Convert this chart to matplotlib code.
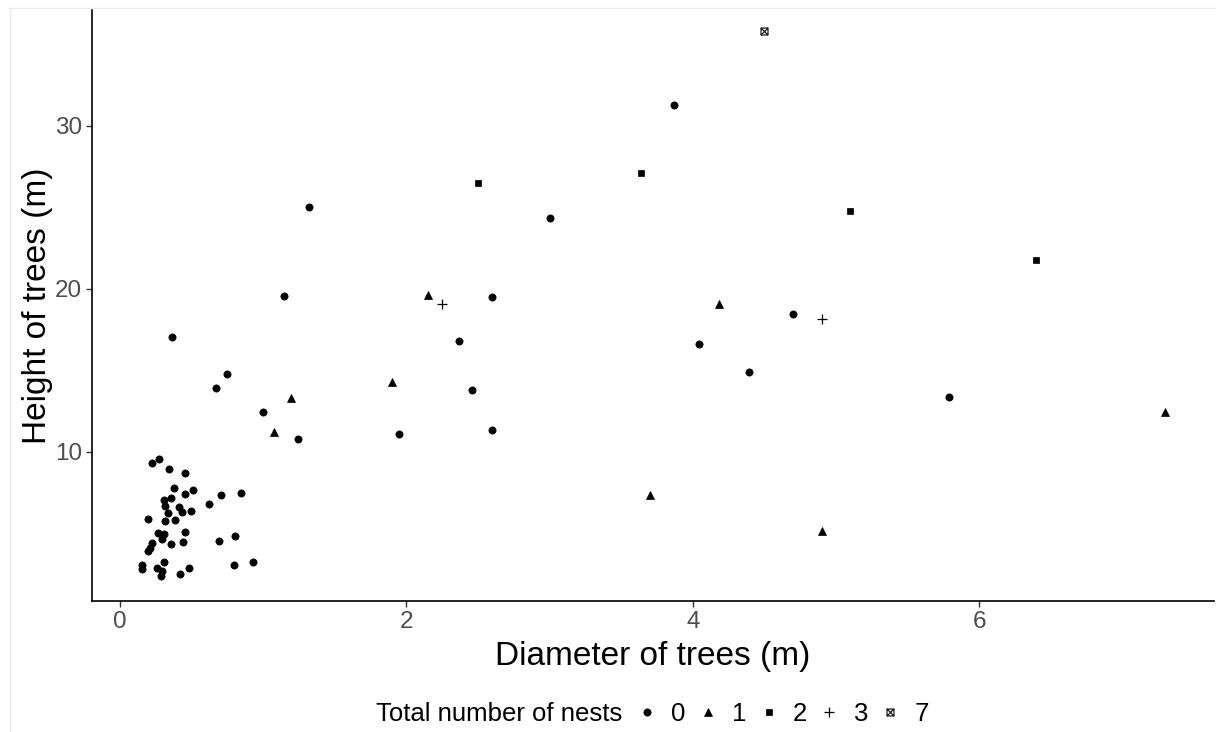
import numpy as np
import matplotlib.pyplot as plt
from matplotlib.path import Path
from matplotlib.lines import Line2D

plt.rcParams['font.family'] = ['Liberation Sans', 'DejaVu Sans']

# ── Data ──────────────────────────────────────────────────────────────────────
diam_0 = [0.226, 0.273, 0.343, 0.455, 0.378, 0.509, 0.455, 0.357, 0.310, 0.315,
          0.415, 0.436, 0.492, 0.338, 0.618, 0.707, 0.847, 0.198, 0.315, 0.385,
          0.268, 0.310, 0.296, 0.455, 0.439, 0.357, 0.222, 0.210, 0.198, 0.156,
          0.156, 0.257, 0.310, 0.292, 0.287, 0.420, 0.483, 0.688, 0.805, 0.798,
          0.926,
          0.36, 0.747, 0.67, 0.996, 1.24, 1.148, 1.32, 1.95, 2.37, 2.46, 2.60,
          2.60, 3.00, 3.87, 4.04, 4.39, 4.70, 5.79]
height_0 = [9.34, 9.59, 8.96, 8.69, 7.81, 7.69, 7.40, 7.16, 7.06, 6.69,
            6.61, 6.34, 6.40, 6.28, 6.83, 7.36, 7.47, 5.88, 5.79, 5.85,
            5.00, 4.95, 4.66, 5.07, 4.50, 4.34, 4.40, 4.09, 3.93, 3.07,
            2.82, 2.87, 3.27, 2.70, 2.41, 2.50, 2.87, 4.56, 4.85, 3.05,
            3.27,
            17.06, 14.79, 13.94, 12.47, 10.8, 19.57, 25.0, 11.1, 16.8, 13.8, 19.5,
            11.35, 24.35, 31.3, 16.6, 14.9, 18.47, 13.37]

diam_1 = [1.197, 1.078, 1.90, 2.15, 3.70, 4.18, 4.90, 7.30]
height_1 = [13.31, 11.21, 14.3, 19.6, 7.36, 19.1, 5.15, 12.45]

diam_2 = [2.50, 3.64, 5.10, 6.40]
height_2 = [26.5, 27.1, 24.8, 21.8]

diam_3 = [2.25, 4.90]
height_3 = [19.1, 18.16]

diam_7 = [4.50]
height_7 = [35.8]

nest_labels = ['0', '1', '2', '3', '7']

# ── Marker: square with a cross (ggplot shape 7) ──────────────────────────────
sq_x = Path([(-1, -1), (1, -1), (1, 1), (-1, 1), (-1, -1),
             (-1, -1), (1, 1), (-1, 1), (1, -1)],
            [Path.MOVETO, Path.LINETO, Path.LINETO, Path.LINETO, Path.CLOSEPOLY,
             Path.MOVETO, Path.LINETO, Path.MOVETO, Path.LINETO])

styles = [
    dict(marker='o', ms=5.2, mfc='black', mec='black', mew=0.5),
    dict(marker='^', ms=5.5, mfc='black', mec='black', mew=0.5),
    dict(marker='s', ms=4.3, mfc='black', mec='black', mew=0.5),
    dict(marker='+', ms=7.5, mfc='none', mec='black', mew=0.9),
    dict(marker=sq_x, ms=5.0, mfc='none', mec='#222222', mew=0.9),
]
groups = [(diam_0, height_0), (diam_1, height_1), (diam_2, height_2),
          (diam_3, height_3), (diam_7, height_7)]

# ── Figure ────────────────────────────────────────────────────────────────────
fig = plt.figure(figsize=(12.16, 7.32), dpi=100)
ax = fig.add_axes([92 / 1216, 1 - 601 / 732, (1214 - 92) / 1216, (601 - 10) / 732])

handles = []
for (x, y), st, lbl in zip(groups, styles, nest_labels):
    h, = ax.plot(x, y, ls='none', label=lbl, **st)
    handles.append(h)

ax.set_xlim(-0.196, 7.64)
ax.set_ylim(0.86, 37.1)
ax.set_xticks([0, 2, 4, 6])
ax.set_yticks([10, 20, 30])

for s in ['top', 'right']:
    ax.spines[s].set_visible(False)
for s in ['left', 'bottom']:
    ax.spines[s].set_linewidth(1.2)
    ax.spines[s].set_color('black')
ax.tick_params(length=4, width=1.0, color='#333333', labelcolor='#4d4d4d',
               labelsize=17.5, pad=3)

ax.set_xlabel('Diameter of trees (m)', fontsize=24, labelpad=6)
ax.set_ylabel('Height of trees (m)', fontsize=24, labelpad=1.5)

# light frame around the panel
fig.add_artist(Line2D([10 / 1216, 10 / 1216], [0, 1 - 8 / 732],
                      color='#ebebeb', lw=1.0, transform=fig.transFigure))
fig.add_artist(Line2D([10 / 1216, 1], [1 - 8 / 732, 1 - 8 / 732],
                      color='#ebebeb', lw=1.0, transform=fig.transFigure))

# ── Legend (title on the left, items in a row) ───────────────────────────────
fig.text(376 / 1216, 1 - 714 / 732, 'Total number of nests', fontsize=18.5,
         ha='left', va='center')
fig.legend(handles=handles, loc='center left',
           bbox_to_anchor=(634 / 1216, 1 - 714 / 732), ncol=5, frameon=False,
           fontsize=18.5, handlelength=1.0, handletextpad=0.45,
           columnspacing=0.36, borderpad=0, borderaxespad=0)

fig.savefig('out.png', dpi=100)
